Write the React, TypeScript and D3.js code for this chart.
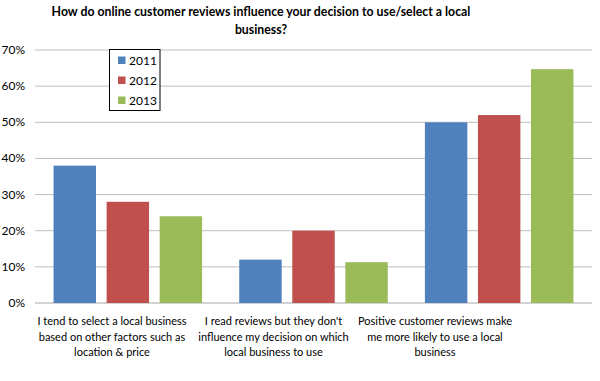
import React from "react";
import * as d3 from "d3";

const title = ["How do online customer reviews influence your decision to use/select a local", "business?"];
const categories = [
  ["I tend to select a local business", "based on other factors such as", "location & price"],
  ["I read reviews but they don't", "influence my decision on which", "local business  to use"],
  ["Positive customer reviews make", "me more likely to use a local", "business"],
];
const series = ["2011", "2012", "2013"];
const values2011 = [38, 12, 50];
const values2012 = [28, 20, 52];
const values2013 = [24, 11.3, 64.7];
const yTicks = [0, 10, 20, 30, 40, 50, 60, 70];
const labelCenters = [112, 273.5, 435];

const colors = ["#4F81BD", "#C0504D", "#9BBB59"];
const FONT = "Lato, 'Open Sans', sans-serif";

export default function App() {
  const W = 600, H = 381;
  const left = 35, right = 592, top = 50, bottom = 303;
  const data = [values2011, values2012, values2013];
  const x = d3.scaleBand<number>().domain(d3.range(categories.length)).range([left, right]).paddingInner(0).paddingOuter(0);
  const xs = d3.scaleBand<number>().domain(d3.range(series.length)).range([0, x.bandwidth()]).paddingInner(0.2).paddingOuter(0.35);
  const y = d3.scaleLinear().domain([0, 70]).range([bottom, top]);

  return (
    <svg width={W} height={H} style={{ position: "absolute", left: 0, top: 0, background: "#fff" }} fontFamily={FONT}>
      <rect width={W} height={H} fill="#fff" />
      {title.map((t, i) => (
        <text key={i} x={261} y={15.5 + i * 18} textAnchor="middle" fontWeight="bold" fontSize={12.3} fill="#000">{t}</text>
      ))}
      {yTicks.map((t) => (
        <g key={t}>
          <line x1={left} x2={right} y1={y(t)} y2={y(t)} stroke={t === 0 ? "#A6A6A6" : "#BFBFBF"} strokeWidth={1} />
          <text x={25} y={y(t) + 4} textAnchor="end" fontSize={12} fill="#000">{t}%</text>
        </g>
      ))}
      {categories.map((c, ci) =>
        series.map((s, si) => {
          const v = data[si][ci];
          const bx = (x(ci) as number) + (xs(si) as number);
          return <rect key={ci + "-" + si} x={bx} y={y(v)} width={xs.bandwidth()} height={y(0) - y(v)} fill={colors[si]} />;
        })
      )}
      {categories.map((c, ci) =>
        c.map((line, li) => (
          <text key={ci + "-" + li} x={labelCenters[ci]} y={325 + li * 15.5} textAnchor="middle" fontSize={11} fill="#000">{line}</text>
        ))
      )}
      <rect x={109.5} y={49.5} width={50.5} height={61} fill="#fff" stroke="#000" strokeWidth={1} />
      {series.map((s, i) => (
        <g key={s}>
          <rect x={118} y={56.5 + i * 20} width={7.5} height={7.5} fill={colors[i]} />
          <text x={129} y={64.5 + i * 20} fontSize={12} fill="#000">{s}</text>
        </g>
      ))}
    </svg>
  );
}
